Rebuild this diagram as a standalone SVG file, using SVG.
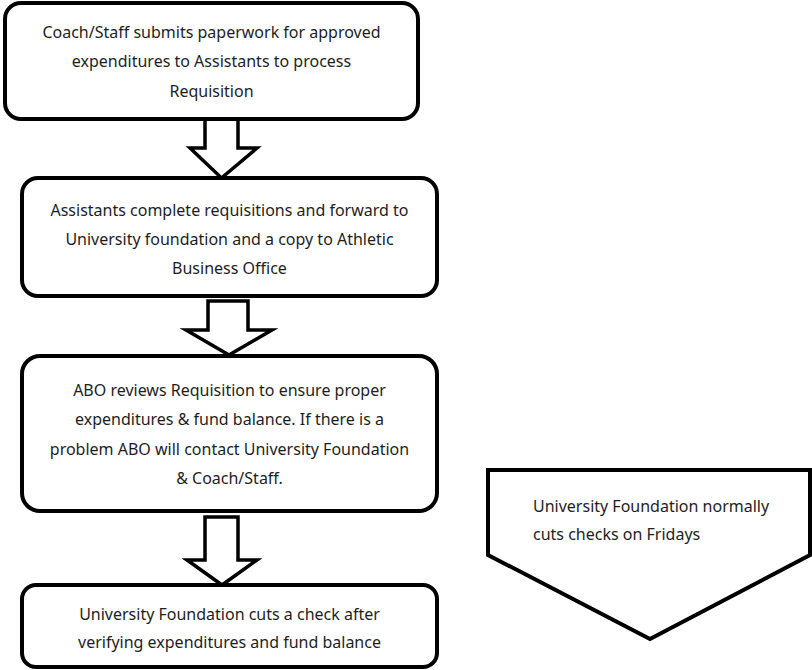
<svg xmlns="http://www.w3.org/2000/svg" width="812" height="670" viewBox="0 0 812 670">
<style>
.box{fill:#fff;stroke:#000;stroke-width:4}
.arr{fill:#fff;stroke:#000;stroke-width:3.5;stroke-linejoin:miter}
text{font-family:"Noto Sans","Liberation Sans",Arial,sans-serif;font-size:16px;fill:#1e1e1e}
.c{text-anchor:middle}
</style>
<rect width="812" height="670" fill="#fff"/>
<g id="connectors">
<polygon class="arr" points="205,119 238,119 238,148 257,148 221.5,178 190,148 205,148"/>
<polygon class="arr" points="208,301 248,301 248,330 272,330 229,355 186,330 208,330"/>
<polygon class="arr" points="205,517 238,517 238,560 257,560 222,585 187,560 205,560"/>
</g>
<g id="n1">
<rect class="box" x="5" y="3" width="413" height="116" rx="16"/>
<text class="c" x="211.5" y="38">Coach/Staff submits paperwork for approved</text>
<text class="c" x="211.5" y="67">expenditures to Assistants to process</text>
<text class="c" x="211.5" y="97">Requisition</text>
</g>
<g id="n2">
<rect class="box" x="22" y="178" width="415" height="118" rx="16"/>
<text class="c" x="229.5" y="216">Assistants complete requisitions and forward to</text>
<text class="c" x="229.5" y="245">University foundation and a copy to Athletic</text>
<text class="c" x="229.5" y="274">Business Office</text>
</g>
<g id="n3">
<rect class="box" x="22" y="356" width="415" height="155" rx="18"/>
<text class="c" x="229.5" y="396">ABO reviews Requisition to ensure proper</text>
<text class="c" x="229.5" y="425">expenditures &amp; fund balance. If there is a</text>
<text class="c" x="229.5" y="455">problem ABO will contact University Foundation</text>
<text class="c" x="229.5" y="484">&amp; Coach/Staff.</text>
</g>
<g id="n4">
<rect class="box" x="22" y="585" width="415" height="82" rx="14"/>
<text class="c" x="229.5" y="620">University Foundation cuts a check after</text>
<text class="c" x="229.5" y="648">verifying expenditures and fund balance</text>
</g>
<g id="n5">
<polygon class="box" points="488,470 810,470 810,555 650,639 488,555"/>
<text x="533" y="512">University Foundation normally</text>
<text x="533" y="540">cuts checks on Fridays</text>
</g>
</svg>
